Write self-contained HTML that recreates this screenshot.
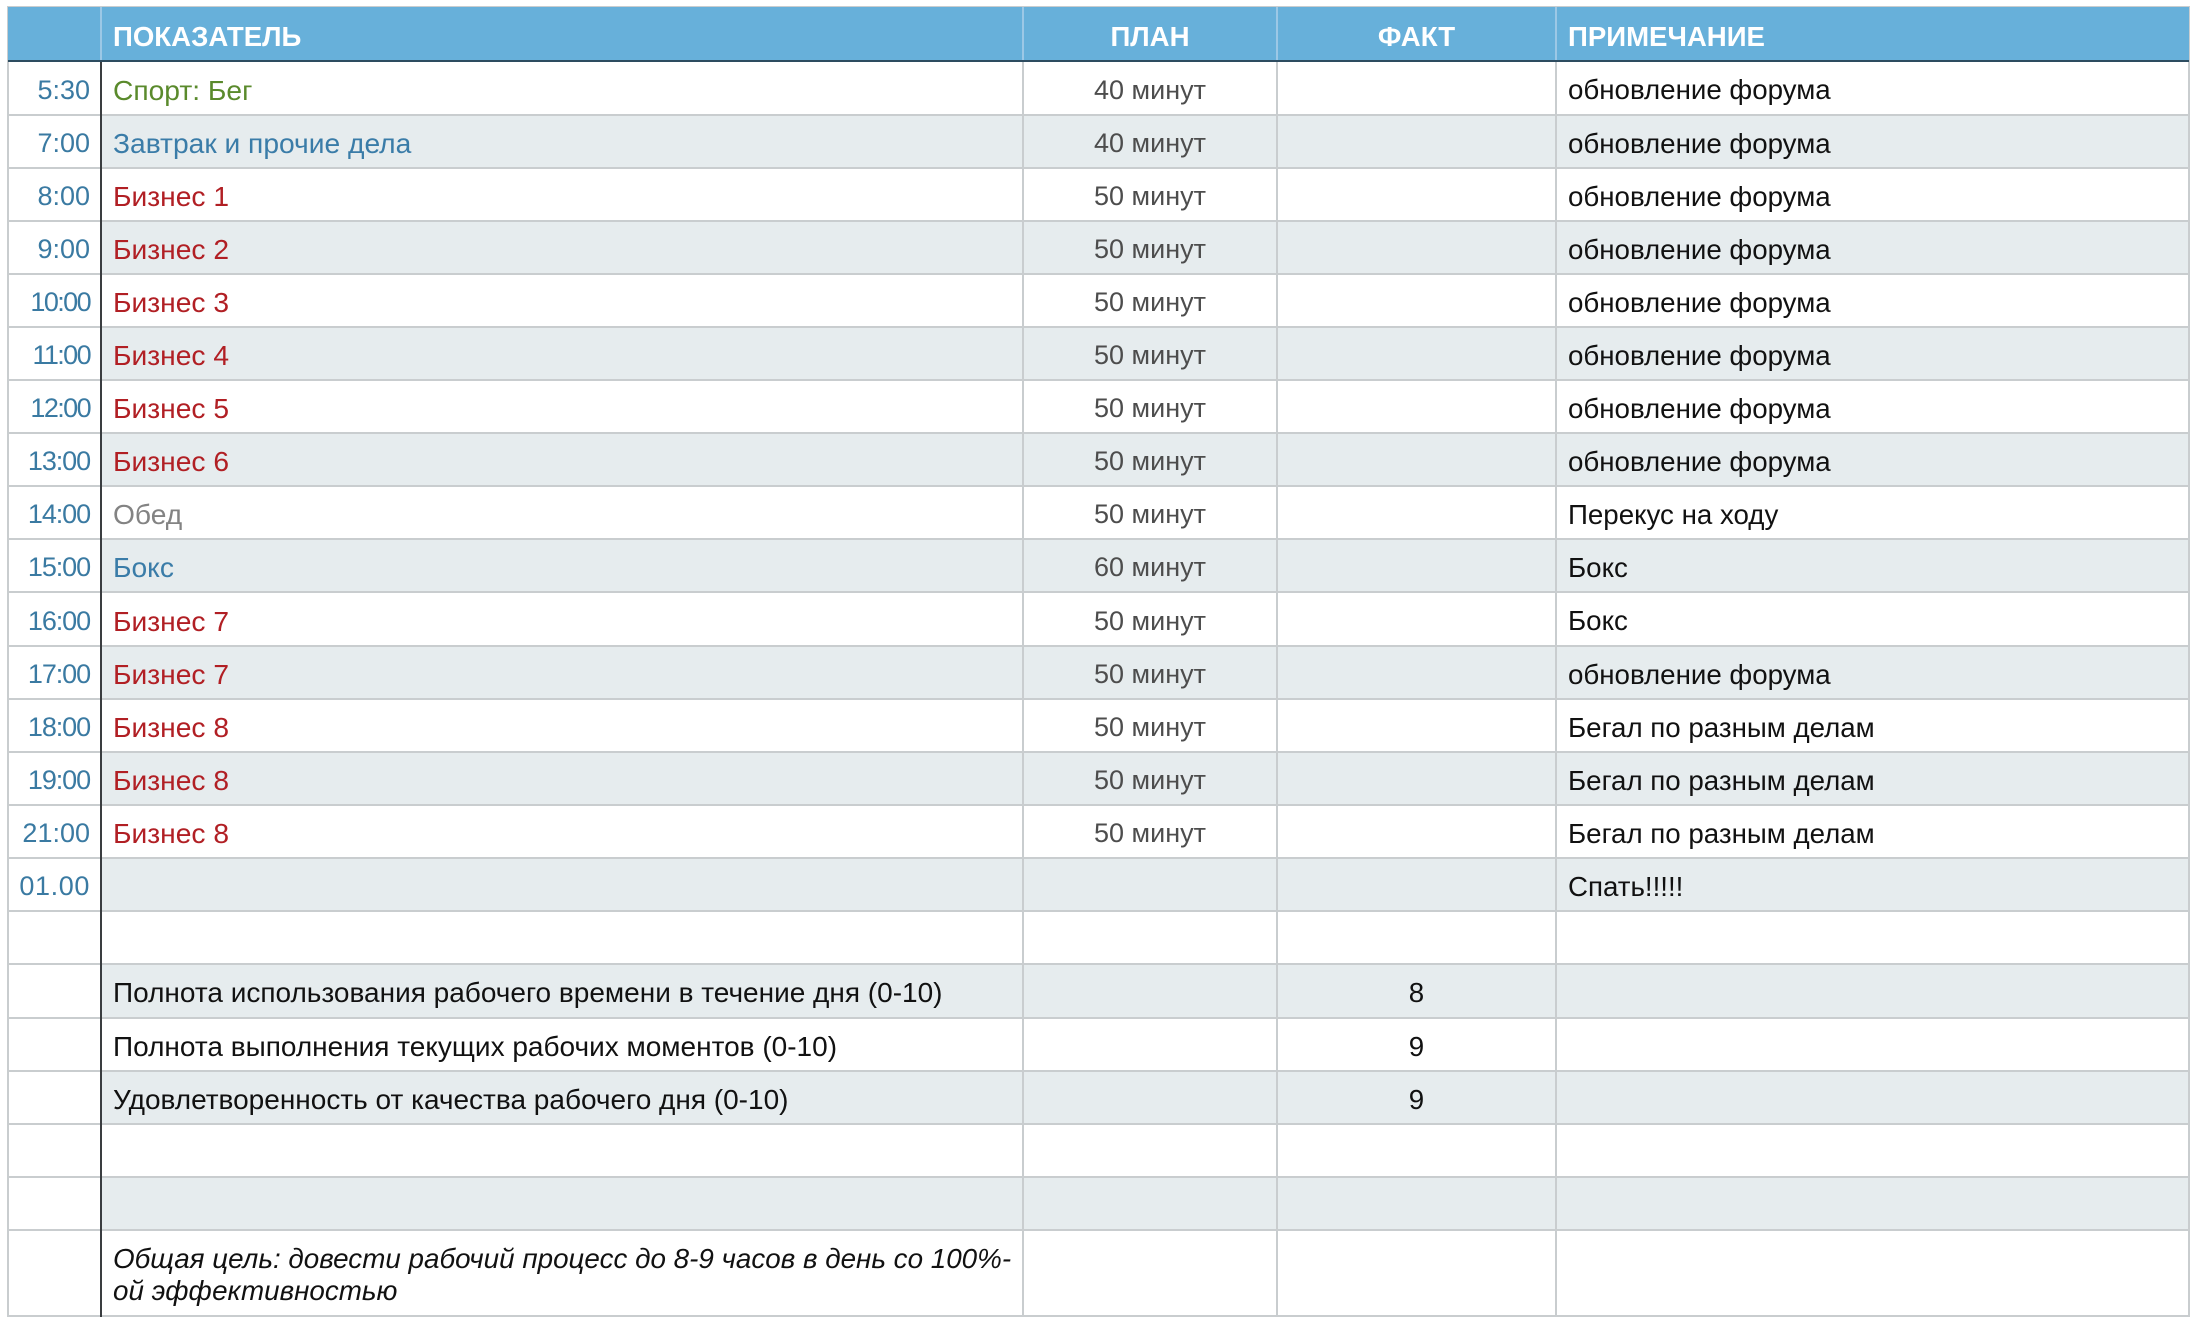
<!DOCTYPE html>
<html>
<head>
<meta charset="utf-8">
<style>
  html, body { margin:0; padding:0; background:#fff; }
  body { width:2198px; height:1326px; position:relative; overflow:hidden;
         font-family:"Liberation Sans", "Noto Sans CJK SC", sans-serif; }
  .bg { position:absolute; left:101px; width:2088px; background:#e6ecee; }
  .hl { position:absolute; left:8px; width:2181px; height:2px; background:#c9cdcf; }
  .vl { position:absolute; width:2px; background:#c9cdcf; }
  .row { position:absolute; left:0; width:2198px; font-size:27.7px; white-space:nowrap; }
  .row span { position:absolute; top:2px; }
  .t { left:8px; width:82px; text-align:right; color:#3a7aa2; font-size:27px; }
  .t1 { letter-spacing:-1.6px; }
  .t2 { letter-spacing:-1.1px; }
  .t3 { letter-spacing:0.6px; }
  .a { left:113px; font-size:28.2px; }
  .p { left:1023px; width:254px; text-align:center; color:#4d4d4d; font-size:27px; }
  .f { left:1277px; width:279px; text-align:center; color:#111; }
  .n { left:1568px; color:#111; }
  .g { color:#5a8a2c; }
  .b { color:#3a7ca8; }
  .r { color:#b11f24; }
  .o { color:#838383; }
  .k { color:#111; }
  .hdr { position:absolute; top:7px; left:8px; width:2181px; height:54px; background:#67b0da; }
  .hdr span { position:absolute; top:0; line-height:60px; color:#fff; font-weight:bold; font-size:27.6px; }
</style>
</head>
<body>

<!-- alternating backgrounds -->
<div class="bg" style="top:115px;height:53px"></div>
<div class="bg" style="top:221px;height:53px"></div>
<div class="bg" style="top:327px;height:53px"></div>
<div class="bg" style="top:433px;height:53px"></div>
<div class="bg" style="top:539px;height:53px"></div>
<div class="bg" style="top:646px;height:53px"></div>
<div class="bg" style="top:752px;height:53px"></div>
<div class="bg" style="top:858px;height:53px"></div>
<div class="bg" style="top:964px;height:54px"></div>
<div class="bg" style="top:1071px;height:53px"></div>
<div class="bg" style="top:1177px;height:53px"></div>

<!-- horizontal lines -->
<div class="hl" style="top:6px"></div>
<div class="hl" style="top:114px"></div>
<div class="hl" style="top:167px"></div>
<div class="hl" style="top:220px"></div>
<div class="hl" style="top:273px"></div>
<div class="hl" style="top:326px"></div>
<div class="hl" style="top:379px"></div>
<div class="hl" style="top:432px"></div>
<div class="hl" style="top:485px"></div>
<div class="hl" style="top:538px"></div>
<div class="hl" style="top:591px"></div>
<div class="hl" style="top:645px"></div>
<div class="hl" style="top:698px"></div>
<div class="hl" style="top:751px"></div>
<div class="hl" style="top:804px"></div>
<div class="hl" style="top:857px"></div>
<div class="hl" style="top:910px"></div>
<div class="hl" style="top:963px"></div>
<div class="hl" style="top:1017px"></div>
<div class="hl" style="top:1070px"></div>
<div class="hl" style="top:1123px"></div>
<div class="hl" style="top:1176px"></div>
<div class="hl" style="top:1229px"></div>
<div class="hl" style="top:1315px"></div>

<!-- vertical lines -->
<div class="vl" style="left:7px;top:6px;height:1311px"></div>
<div class="vl" style="left:2188px;top:6px;height:1311px"></div>
<div class="vl" style="left:1022px;top:61px;height:1256px"></div>
<div class="vl" style="left:1276px;top:61px;height:1256px"></div>
<div class="vl" style="left:1555px;top:61px;height:1256px"></div>
<div class="vl" style="left:100px;top:61px;height:1256px;background:#3a3d40"></div>

<!-- header -->
<div class="hdr">
  <div style="position:absolute;left:92px;top:0;width:2px;height:54px;background:#9cc8e6"></div>
  <div style="position:absolute;left:1014px;top:0;width:2px;height:54px;background:#9cc8e6"></div>
  <div style="position:absolute;left:1268px;top:0;width:2px;height:54px;background:#9cc8e6"></div>
  <div style="position:absolute;left:1547px;top:0;width:2px;height:54px;background:#9cc8e6"></div>
  <span style="left:105px">ПОКАЗАТЕЛЬ</span>
  <span style="left:1015px;width:254px;text-align:center">ПЛАН</span>
  <span style="left:1269px;width:279px;text-align:center">ФАКТ</span>
  <span style="left:1560px">ПРИМЕЧАНИЕ</span>
</div>
<div style="position:absolute;left:8px;top:60px;width:2181px;height:2px;background:#2d4c60"></div>

<!-- rows -->
<div class="row" style="top:61px;height:54px;line-height:54px"><span class="t">5:30</span><span class="a g">Спорт: Бег</span><span class="p">40 минут</span><span class="n">обновление форума</span></div>
<div class="row" style="top:115px;height:53px;line-height:53px"><span class="t">7:00</span><span class="a b">Завтрак и прочие дела</span><span class="p">40 минут</span><span class="n">обновление форума</span></div>
<div class="row" style="top:168px;height:53px;line-height:53px"><span class="t">8:00</span><span class="a r">Бизнес 1</span><span class="p">50 минут</span><span class="n">обновление форума</span></div>
<div class="row" style="top:221px;height:53px;line-height:53px"><span class="t">9:00</span><span class="a r">Бизнес 2</span><span class="p">50 минут</span><span class="n">обновление форума</span></div>
<div class="row" style="top:274px;height:53px;line-height:53px"><span class="t t1">10:00</span><span class="a r">Бизнес 3</span><span class="p">50 минут</span><span class="n">обновление форума</span></div>
<div class="row" style="top:327px;height:53px;line-height:53px"><span class="t t1">11:00</span><span class="a r">Бизнес 4</span><span class="p">50 минут</span><span class="n">обновление форума</span></div>
<div class="row" style="top:380px;height:53px;line-height:53px"><span class="t t1">12:00</span><span class="a r">Бизнес 5</span><span class="p">50 минут</span><span class="n">обновление форума</span></div>
<div class="row" style="top:433px;height:53px;line-height:53px"><span class="t t2">13:00</span><span class="a r">Бизнес 6</span><span class="p">50 минут</span><span class="n">обновление форума</span></div>
<div class="row" style="top:486px;height:53px;line-height:53px"><span class="t t2">14:00</span><span class="a o">Обед</span><span class="p">50 минут</span><span class="n">Перекус на ходу</span></div>
<div class="row" style="top:539px;height:53px;line-height:53px"><span class="t t2">15:00</span><span class="a b">Бокс</span><span class="p">60 минут</span><span class="n">Бокс</span></div>
<div class="row" style="top:592px;height:54px;line-height:54px"><span class="t t2">16:00</span><span class="a r">Бизнес 7</span><span class="p">50 минут</span><span class="n">Бокс</span></div>
<div class="row" style="top:646px;height:53px;line-height:53px"><span class="t t2">17:00</span><span class="a r">Бизнес 7</span><span class="p">50 минут</span><span class="n">обновление форума</span></div>
<div class="row" style="top:699px;height:53px;line-height:53px"><span class="t t2">18:00</span><span class="a r">Бизнес 8</span><span class="p">50 минут</span><span class="n">Бегал по разным делам</span></div>
<div class="row" style="top:752px;height:53px;line-height:53px"><span class="t t2">19:00</span><span class="a r">Бизнес 8</span><span class="p">50 минут</span><span class="n">Бегал по разным делам</span></div>
<div class="row" style="top:805px;height:53px;line-height:53px"><span class="t">21:00</span><span class="a r">Бизнес 8</span><span class="p">50 минут</span><span class="n">Бегал по разным делам</span></div>
<div class="row" style="top:858px;height:53px;line-height:53px"><span class="t t3">01.00</span><span class="n">Спать!!!!!</span></div>

<div class="row" style="top:964px;height:54px;line-height:54px"><span class="a k" style="font-size:28px">Полнота использования рабочего времени в течение дня (0-10)</span><span class="f">8</span></div>
<div class="row" style="top:1018px;height:53px;line-height:53px"><span class="a k" style="font-size:28px">Полнота выполнения текущих рабочих моментов (0-10)</span><span class="f">9</span></div>
<div class="row" style="top:1071px;height:53px;line-height:53px"><span class="a k" style="font-size:28px">Удовлетворенность от качества рабочего дня (0-10)</span><span class="f">9</span></div>

<div class="row" style="top:1241px;height:64px;line-height:32px"><span class="a k" style="font-style:italic;font-size:27.8px">Общая цель: довести рабочий процесс до 8-9 часов в день со 100%-<br>ой эффективностью</span></div>

</body>
</html>
